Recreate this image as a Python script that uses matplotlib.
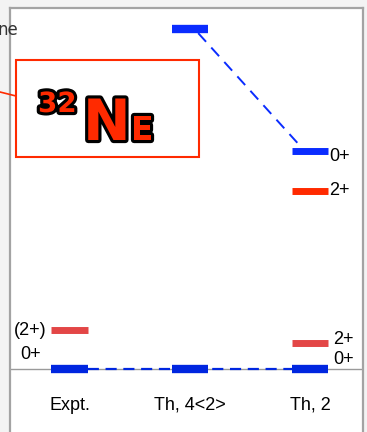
import matplotlib.pyplot as plt
import matplotlib.patheffects as pe
from matplotlib.patches import Rectangle
from matplotlib import font_manager

# level schemes (MeV)
schemes = ["Expt.", "Th, 4<2>", "Th, 2"]
expt_0 = [0.0]
expt_2 = [0.72]
th4_0 = [0.0, 6.30]
th2_0 = [0.0, 4.04]
th2_2 = [0.48, 3.30]

names = {f.name for f in font_manager.fontManager.ttflist}
narrow = "Liberation Sans Narrow" if "Liberation Sans Narrow" in names else "Liberation Sans"

BLUE = "#0026e0"
BLUE2 = "#0a2cff"
RED = "#e34646"
RED2 = "#ff2a00"

W, H = 367, 432
fig = plt.figure(figsize=(W / 100, H / 100), dpi=100, facecolor="#f3f3f3")

# axes box in pixel terms
px_per_mev = 54.0
y0 = 369
ax_top, ax_bot = 8, 445
ax = fig.add_axes([10 / W, 1 - ax_bot / H, 353 / W, (ax_bot - ax_top) / H])
ax.set_facecolor("white")
ax.set_ylim(-(ax_bot - y0) / px_per_mev, (y0 - ax_top) / px_per_mev)
sp = 120.3
ax.set_xlim((10 - 69.5) / sp, (363 - 69.5) / sp)
for s in ax.spines.values():
    s.set_color("#a3a3a3")
    s.set_linewidth(1.6)
ax.set_xticks([])
ax.set_yticks([])

ax.axhline(0, color="#9a9a9a", lw=1.0, zorder=1)

hw = 0.15


def level(x, e, color, lw=6):
    ax.plot([x - hw, x + hw], [e, e], color=color, lw=lw, solid_capstyle="butt", zorder=3)


# dashed connections
ax.plot([0, 2], [0, 0], color=BLUE, lw=1.6, ls=(0, (5, 3)), zorder=2)
ax.plot([1 + 0.07, 2 - 0.07], [th4_0[1] - 0.08, th2_0[1] + 0.06], color=BLUE2, lw=1.4,
        ls=(0, (6, 4)), zorder=2)

level(0, expt_0[0], BLUE)
level(0, expt_2[0], RED, 5)
level(1, th4_0[0], BLUE)
level(1, th4_0[1], BLUE2)
level(2, th2_0[0], BLUE)
level(2, th2_0[1], BLUE2, 5)
level(2, th2_2[0], RED, 5)
level(2, th2_2[1], RED2, 5)

fs = 13
ax.text(-hw - 0.04, expt_2[0], "(2+)", ha="right", va="center", fontsize=fs, family=narrow)
ax.text(-0.32, 0.26, "0+", ha="center", va="center", fontsize=fs, family=narrow)
ax.text(2 + hw + 0.01, th2_0[1] - 0.11, "0+", ha="left", va="center", fontsize=fs, family=narrow)
ax.text(2 + hw + 0.01, th2_2[1], "2+", ha="left", va="center", fontsize=fs, family=narrow)
ax.text(2 + hw + 0.04, th2_2[0] + 0.06, "2+", ha="left", va="center", fontsize=fs, family=narrow)
ax.text(2 + hw + 0.04, 0.17, "0+", ha="left", va="center", fontsize=fs, family=narrow)

for i, name in enumerate(schemes):
    ax.text(i, -0.67, name, ha="center", va="center", fontsize=fs, family=narrow)

# 32Ne label box
fig.add_artist(Rectangle((16 / W, 1 - 157 / H), 183 / W, 97 / H, transform=fig.transFigure,
                         fill=True, facecolor="white", edgecolor=RED2, lw=1.5, zorder=5))
fig.add_artist(plt.Line2D([0, 16 / W], [1 - 92 / H, 1 - 96 / H], transform=fig.transFigure,
                          color=RED2, lw=1.2))
stroke = [pe.Stroke(linewidth=4.5, foreground="black"), pe.Normal()]
fig.text(38 / W, 1 - 112 / H, "32", fontsize=20, fontweight="bold", color=RED2,
         path_effects=stroke, zorder=6, va="baseline")
fig.text(83 / W, 1 - 140 / H, "N", fontsize=41, fontweight="bold", color=RED2,
         path_effects=stroke, zorder=6, va="baseline")
fig.text(131 / W, 1 - 140 / H, "E", fontsize=24, fontweight="bold", color=RED2,
         path_effects=stroke, zorder=6, va="baseline")

fig.text(-3 / W, 1 - 30 / H, "ne", fontsize=12, color="#333333", va="center")

fig.savefig("out.png", dpi=100, facecolor=fig.get_facecolor())
